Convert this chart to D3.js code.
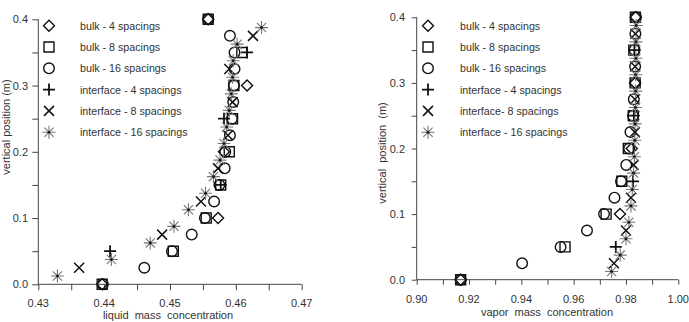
<!DOCTYPE html>
<html><head><meta charset="utf-8">
<script src="https://cdn.jsdelivr.net/npm/d3@7"></script>
<style>body{margin:0;background:#fff}svg{display:block}text{font-family:"Liberation Sans",Arial,sans-serif;fill:#333}</style>
</head><body><svg id="c" width="689" height="322"></svg>
<script>
// positions (m)
const yBulk4 = [0, 0.1, 0.2, 0.3, 0.4];
const yBulk8 = [0, 0.05, 0.1, 0.15, 0.2, 0.25, 0.3, 0.35, 0.4];
const yBulk16 = [0, 0.025, 0.05, 0.075, 0.1, 0.125, 0.15, 0.175, 0.2, 0.225, 0.25, 0.275, 0.3, 0.325, 0.35, 0.375, 0.4];
const yIf4 = [0.05, 0.15, 0.25, 0.35];
const yIf8 = [0.025, 0.075, 0.125, 0.175, 0.225, 0.275, 0.325, 0.375];
const yIf16 = [0.0125, 0.0375, 0.0625, 0.0875, 0.1125, 0.1375, 0.1625, 0.1875, 0.2125, 0.2375, 0.2625, 0.2875, 0.3125, 0.3375, 0.3625, 0.3875];

// liquid mass concentration
const liqBulk4 = [0.4397, 0.4573, 0.4582, 0.4617, 0.4558];
const liqBulk8 = [0.4397, 0.4505, 0.4555, 0.4577, 0.4590, 0.4595, 0.4597, 0.4609, 0.4558];
const liqBulk16 = [0.4398, 0.4461, 0.4503, 0.4533, 0.4553, 0.4567, 0.4575, 0.4583, 0.4584, 0.4591, 0.4594, 0.4596, 0.4597, 0.4598, 0.4598, 0.4591, 0.4558];
const liqIf4 = [0.4409, 0.4577, 0.4582, 0.4617];
const liqIf8 = [0.4362, 0.4488, 0.4547, 0.4573, 0.4588, 0.4595, 0.4590, 0.4626];
const liqIf16 = [0.4329, 0.4411, 0.4470, 0.4506, 0.4528, 0.4554, 0.4566, 0.4576, 0.4582, 0.4586, 0.4590, 0.4593, 0.4595, 0.4596, 0.4602, 0.4639];

// vapor mass concentration
const vapBulk4 = [0.9168, 0.9777, 0.9822, 0.9835, 0.9837];
const vapBulk8 = [0.9168, 0.9567, 0.9724, 0.9784, 0.9809, 0.9828, 0.9835, 0.9830, 0.9836];
const vapBulk16 = [0.9168, 0.9403, 0.9550, 0.9651, 0.9716, 0.9756, 0.9781, 0.9801, 0.9812, 0.9817, 0.9827, 0.9830, 0.9835, 0.9835, 0.9833, 0.9836, 0.9838];
const vapIf4 = [0.9761, 0.9827, 0.9830, 0.9832];
const vapIf8 = [0.9754, 0.9800, 0.9819, 0.9829, 0.9834, 0.9834, 0.9835, 0.9836];
const vapIf16 = [0.9745, 0.9778, 0.9800, 0.9811, 0.9819, 0.9824, 0.9829, 0.9832, 0.9834, 0.9835, 0.9836, 0.9837, 0.9837, 0.9838, 0.9838, 0.9839];

const seriesNames = ["bulk - 4 spacings", "bulk - 8 spacings", "bulk - 16 spacings", "interface - 4 spacings", "interface - 8 spacings", "interface - 16 spacings"];
const seriesNamesR = ["bulk - 4 spacings", "bulk - 8 spacings", "bulk - 16 spacings", "interface - 4 spacings", "interface- 8 spacings", "interface - 16 spacings"];
const symbols = ["diamond", "square", "circle", "plus", "cross", "asterisk"];
const liqTicks = [0.43, 0.44, 0.45, 0.46, 0.47];
const vapTicks = [0.90, 0.92, 0.94, 0.96, 0.98, 1.00];
const yTicks = [0.0, 0.1, 0.2, 0.3, 0.4];

const svg = d3.select("#c");

function drawSym(g, type, x, y) {
  const s = g.append("g").attr("transform", `translate(${x},${y})`);
  const st = {fill: "none", stroke: "#111", "stroke-width": 1.4};
  const ap = (d, o) => { const p = s.append("path").attr("d", d); Object.entries(Object.assign({}, st, o||{})).forEach(([k,v]) => p.attr(k, v)); };
  if (type === "diamond") ap("M0,-5.5L5.5,0L0,5.5L-5.5,0Z");
  else if (type === "square") ap("M-5,-5H5V5H-5Z");
  else if (type === "circle") s.append("circle").attr("r", 5.3).attr("fill", "none").attr("stroke", "#111").attr("stroke-width", 1.4);
  else if (type === "plus") ap("M-6,0H6M0,-6V6", {"stroke-width": 1.8});
  else if (type === "cross") ap("M-5,-5L5,5M-5,5L5,-5", {"stroke-width": 1.5});
  else if (type === "asterisk") {
    ap("M-6.5,0H6.5M0,-6.5V6.5M-4.6,-4.6L4.6,4.6M-4.6,4.6L4.6,-4.6", {stroke: "#777", "stroke-width": 1.1});
    s.append("circle").attr("r", 1.3).attr("fill", "#111");
  }
}

function chart(cfg) {
  const x = d3.scaleLinear().domain(cfg.xDomain).range([cfg.x0, cfg.x1]);
  const y = d3.scaleLinear().domain([0, 0.4]).range([cfg.y0, cfg.y1]);
  const g = svg.append("g");
  // x axis
  const xa = d3.axisBottom(x).tickValues(d3.range(cfg.xDomain[0], cfg.xDomain[1] + 1e-9, cfg.minorX)).tickSize(cfg.tick).tickFormat("");
  g.append("g").attr("transform", `translate(0,${cfg.y0})`).call(xa)
    .call(a => { a.select(".domain").attr("stroke", "#444").attr("d", `M${cfg.x0},0H${cfg.x1}`); a.selectAll("line").attr("stroke", "#444"); });
  cfg.xTicks.forEach(t => g.append("text").attr("x", x(t)).attr("y", cfg.xLabelY).attr("text-anchor", "middle").attr("font-size", 11).text(d3.format(".2f")(t)));
  // y axis
  const ya = d3.axisLeft(y).tickValues(d3.range(0, 0.4001, 0.05)).tickSize(cfg.tick).tickFormat("");
  g.append("g").attr("transform", `translate(${cfg.x0},0)`).call(ya)
    .call(a => { a.select(".domain").attr("stroke", "#444").attr("d", `M0,${cfg.y0}V${cfg.y1}`); a.selectAll("line").attr("stroke", "#444"); });
  yTicks.forEach(t => g.append("text").attr("x", cfg.yLabelX).attr("y", y(t) + 4).attr("text-anchor", "end").attr("font-size", 11).text(d3.format(".1f")(t)));
  // titles
  g.append("text").attr("x", cfg.xTitleX).attr("y", cfg.xTitleY).attr("text-anchor", "middle").attr("font-size", 11).attr("xml:space", "preserve").text(cfg.xTitle);
  g.append("text").attr("transform", `translate(${cfg.yTitleX},${cfg.yTitleY}) rotate(-90)`).attr("text-anchor", "middle").attr("font-size", 11).attr("xml:space", "preserve").text(cfg.yTitle);
  // data
  const ys = [yBulk4, yBulk8, yBulk16, yIf4, yIf8, yIf16];
  cfg.data.forEach((vals, i) => vals.forEach((v, j) => drawSym(g, symbols[i], x(v), y(ys[i][j]))));
  // legend
  cfg.names.forEach((n, i) => {
    const ly = cfg.legY + i * 21.3;
    drawSym(g, symbols[i], cfg.legSymX, ly);
    g.append("text").attr("x", cfg.legTextX).attr("y", ly + 4).attr("font-size", 10.7).text(n);
  });
}

chart({xDomain: [0.43, 0.47], minorX: 0.005, x0: 38.3, x1: 301.7, y0: 284.3, y1: 19.3, tick: 6,
  xTicks: liqTicks, xLabelY: 307, yLabelX: 28, xTitle: "liquid  mass  concentration", xTitleX: 168, xTitleY: 319,
  yTitle: "vertical position (m)", yTitleX: 10, yTitleY: 127,
  data: [liqBulk4, liqBulk8, liqBulk16, liqIf4, liqIf8, liqIf16], names: seriesNames, legY: 25.7, legSymX: 49, legTextX: 80});

chart({xDomain: [0.90, 1.00], minorX: 0.01, x0: 416.7, x1: 678.3, y0: 279.7, y1: 17.3, tick: 5,
  xTicks: vapTicks, xLabelY: 303, yLabelX: 405, xTitle: "vapor  mass  concentration", xTitleX: 547, xTitleY: 316,
  yTitle: "vertical  position  (m)", yTitleX: 386, yTitleY: 153,
  data: [vapBulk4, vapBulk8, vapBulk16, vapIf4, vapIf8, vapIf16], names: seriesNamesR, legY: 25.7, legSymX: 428, legTextX: 460});
</script></body></html>
